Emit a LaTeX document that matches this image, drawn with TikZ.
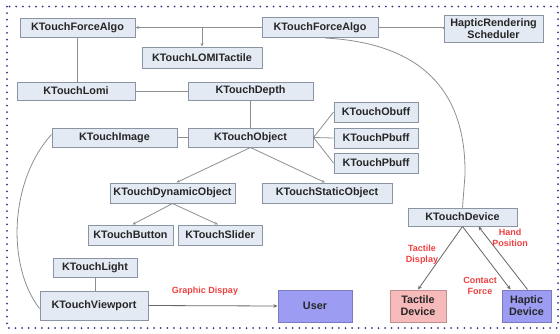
\documentclass[tikz,border=0pt]{standalone}
\usepackage{fontspec}
\setmainfont{Liberation Sans}
\usetikzlibrary{arrows.meta}
\definecolor{boxfill}{HTML}{E4EAF3}
\definecolor{boxdraw}{HTML}{8A94A3}
\definecolor{bluefill}{HTML}{9C9CF2}
\definecolor{bluedraw}{HTML}{7A7AC0}
\definecolor{pinkfill}{HTML}{F6BABA}
\definecolor{pinkdraw}{HTML}{C09090}
\definecolor{linecol}{HTML}{8E8E8E}
\definecolor{redtxt}{HTML}{EE4040}
\definecolor{navy}{HTML}{34348A}
\tikzset{
  box/.style={draw=boxdraw, fill=boxfill, line width=1pt, inner sep=0pt,
    font=\fontsize{10.8}{12}\selectfont\bfseries, text=black!85, align=center},
  bluebox/.style={box, draw=bluedraw, fill=bluefill},
  pinkbox/.style={box, draw=pinkdraw, fill=pinkfill},
  conn/.style={draw=linecol, line width=0.8pt},
  arr/.style={conn, -{Stealth[length=3.5pt,width=3pt]}},
  darr/.style={draw=black!60, line width=0.8pt, -{Stealth[length=4pt,width=3.5pt]}},
  lbl/.style={font=\fontsize{9}{11}\selectfont\bfseries, text=redtxt, align=center, inner sep=0pt},
}
\begin{document}
\begin{tikzpicture}[x=1pt,y=-1pt]
\useasboundingbox (0,0) rectangle (560,333);
\draw[navy, line width=2pt, line cap=round, dash pattern=on 0pt off 6.6pt] (7,6.5) rectangle (558,328);

\node[box, minimum width=115, minimum height=19] (fa1) at (77.5,27.5) {KTouchForceAlgo};
\node[box, minimum width=120, minimum height=21] (lomit) at (202,57.5) {KTouchLOMITactile};
\node[box, minimum width=118, minimum height=18] (lomi) at (76,91) {KTouchLomi};
\node[box, minimum width=125, minimum height=18] (depth) at (250.5,91) {KTouchDepth};
\node[box, minimum width=125, minimum height=19] (img) at (114.5,137.5) {KTouchImage};
\node[box, minimum width=125, minimum height=19] (obj) at (250.5,137.5) {KTouchObject};
\node[box, minimum width=116, minimum height=20] (fa2) at (320,27.5) {KTouchForceAlgo};
\node[box, minimum width=99, minimum height=27] (hrs) at (493.5,28.5) {HapticRendering\\Scheduler};
\node[box, minimum width=84, minimum height=20] (obuff) at (376,112) {KTouchObuff};
\node[box, minimum width=84, minimum height=20] (pbuffa) at (376,138) {KTouchPbuff};
\node[box, minimum width=84, minimum height=20] (pbuffb) at (376,163) {KTouchPbuff};
\node[box, minimum width=125, minimum height=20] (dyn) at (172.5,193) {KTouchDynamicObject};
\node[box, minimum width=130, minimum height=20] (stat) at (327,193) {KTouchStaticObject};
\node[box, minimum width=85, minimum height=20] (btn) at (130.5,235) {KTouchButton};
\node[box, minimum width=84, minimum height=20] (sld) at (220,235) {KTouchSlider};
\node[box, minimum width=84, minimum height=19] (light) at (95,267.5) {KTouchLight};
\node[box, minimum width=108, minimum height=29] (vp) at (94,305.5) {KTouchViewport};
\node[bluebox, minimum width=74, minimum height=32] (user) at (315,306) {User};
\node[pinkbox, minimum width=56, minimum height=32] (tact) at (418,306) {Tactile\\Device};
\node[bluebox, minimum width=49, minimum height=32] (hap) at (526.5,306) {Haptic\\Device};
\node[box, minimum width=109, minimum height=18] (dev) at (462.5,217) {KTouchDevice};

% connectors
\draw[arr] (fa2.west) -- (fa1.east);
\draw[arr] (lomit.north |- fa1.east) -- (lomit.north);
\draw[conn] (hrs.west) -- (fa2.east -| hrs.west) -- (fa2.east);
\draw[conn] (fa1.south) -- (fa1.south |- lomi.north);
\draw[conn] (lomi.east) -- (depth.west);
\draw[conn] (depth.south) -- (obj.north);
\draw[conn] (img.east) -- (obj.west);
\draw[conn] (obj.east) -- (obuff.west);
\draw[conn] (obj.east) -- (pbuffa.west);
\draw[conn] (obj.east) -- (pbuffb.west);
\draw[arr] (obj.south) -- ([xshift=4]dyn.north);
\draw[arr] (obj.south) -- ([xshift=-2]stat.north);
\draw[arr] (dyn.south) -- ([xshift=2]btn.north);
\draw[arr] (dyn.south) -- ([xshift=-2]sld.north);
\draw[conn] (light.south) -- (light.south |- vp.north);
\draw[darr] (vp.east) -- (user.west);
\draw[conn] ([yshift=3]img.west) .. controls (10,180) and (6,265) .. ([yshift=-3]vp.west);
\draw[conn] ([xshift=5]fa2.south) .. controls (440,44) and (466,110) .. (465,175) -- (dev.north);
\draw[darr] (dev.south) -- (tact.north);
\draw[darr] (dev.south) -- ([xshift=-16]hap.north);
\draw[darr] ([xshift=1]hap.north) -- ([xshift=16]dev.south);

% labels
\node[lbl] (l1) at (205,291) {Graphic Dispay};
\node[lbl] (l2) at (422,255) {Tactile\\Display};
\node[lbl] (l3) at (480,286) {Contact\\Force};
\node[lbl] (l4) at (510,238) {Hand\\Position};
\end{tikzpicture}
\end{document}
